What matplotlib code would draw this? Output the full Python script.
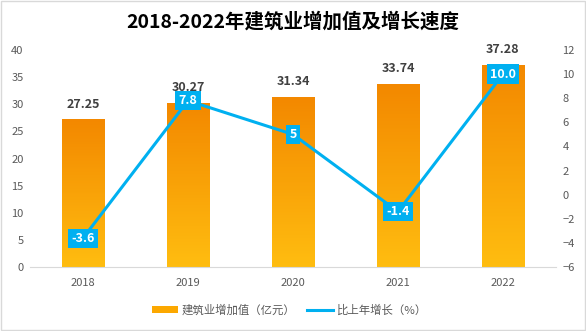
import numpy as np
import matplotlib
matplotlib.use("Agg")
import matplotlib.pyplot as plt
from matplotlib.colors import LinearSegmentedColormap
from matplotlib.patches import Rectangle

plt.rcParams["font.family"] = ["Noto Sans CJK SC", "DejaVu Sans"]

years = ["2018", "2019", "2020", "2021", "2022"]
value_added = [27.25, 30.27, 31.34, 33.74, 37.28]
growth = [-3.6, 7.8, 5, -1.4, 10.0]
growth_labels = ["-3.6", "7.8", "5", "-1.4", "10.0"]

fig = plt.figure(figsize=(5.86, 3.31), dpi=100)
fig.patch.set_facecolor("white")
# thin grey frame around the whole chart
fig.add_artist(Rectangle((0.001, 0.002), 0.997, 0.995, transform=fig.transFigure,
                         fill=False, ec="#d9d9d9", lw=1))

ax = fig.add_axes([0.052, 0.193, 0.896, 0.656])
x = np.arange(len(years))
bars = ax.bar(x, value_added, width=0.4, color="none", zorder=2)

cmap = LinearSegmentedColormap.from_list("bar", ["#ffbd10", "#f38800"])
grad = np.linspace(0, 1, 256).reshape(-1, 1)
for b in bars:
    x0, w, h = b.get_x(), b.get_width(), b.get_height()
    im = ax.imshow(grad, cmap=cmap, origin="lower", aspect="auto",
                   extent=(x0, x0 + w, 0, h), zorder=2)
    im.set_clip_path(b)

for xi, v in zip(x, value_added):
    ax.text(xi, v + 1.6, f"{v:.2f}", ha="center", va="bottom", fontsize=9,
            fontweight="bold", color="#404040")

ax.set_xlim(-0.5, len(years) - 0.5)
ax.set_ylim(0, 40)
ax.set_yticks(range(0, 41, 5))
ax.set_xticks(x)
ax.set_xticklabels(years)
for s in ["top", "right", "left"]:
    ax.spines[s].set_visible(False)
ax.spines["bottom"].set_color("#d9d9d9")
ax.tick_params(length=0, labelsize=8, colors="#595959")
ax.tick_params(axis="x", pad=8)
ax.tick_params(axis="y", pad=5)

ax2 = ax.twinx()
ax2.plot(x, growth, color="#00b0f0", lw=2.2, zorder=3)
for xi, v, lab in zip(x, growth, growth_labels):
    ax2.text(xi, v, lab, ha="center", va="center", fontsize=9, fontweight="bold",
             color="white", zorder=4,
             bbox=dict(boxstyle="square,pad=0.25", fc="#00b0f0", ec="none"))
ax2.set_ylim(-6, 12)
ax2.set_yticks(range(-6, 13, 2))
for s in ["top", "right", "left", "bottom"]:
    ax2.spines[s].set_visible(False)
ax2.tick_params(length=0, labelsize=8, colors="#595959", pad=5)

fig.text(0.5, 0.933, "2018-2022年建筑业增加值及增长速度", ha="center", va="center",
         fontsize=14, fontweight="bold", color="black")

handles = [Rectangle((0, 0), 1, 1, fc="#fca800", ec="none"),
           plt.Line2D([0], [0], color="#00b0f0", lw=2.2)]
fig.legend(handles, ["建筑业增加值（亿元）", "比上年增长（%）"], loc="center",
           bbox_to_anchor=(0.494, 0.063), ncol=2, frameon=False, fontsize=8.2,
           labelcolor="#595959", handlelength=2.3, handleheight=0.6,
           handletextpad=0.3, columnspacing=1.0)

fig.savefig("out.png", dpi=100)
